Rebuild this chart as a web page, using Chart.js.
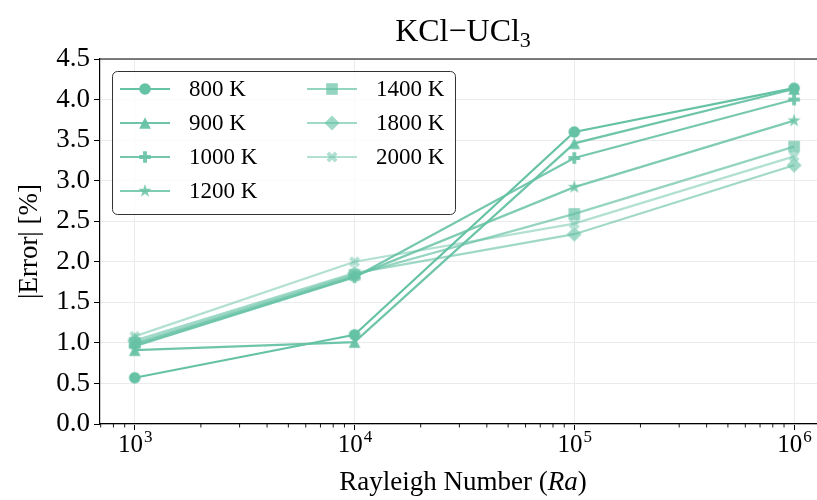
<!DOCTYPE html>
<html>
<head>
<meta charset="utf-8">
<script src="https://cdn.jsdelivr.net/npm/chart.js@4.4.0/dist/chart.umd.min.js"></script>
<style>
html,body{margin:0;padding:0;background:#fff;overflow:hidden}
#wrap{width:817px;height:500px;position:relative;overflow:hidden}
</style>
</head>
<body>
<div id="wrap"><canvas id="c" width="830" height="500"></canvas></div>
<script>
// data
const rayleigh=[1e3,1e4,1e5,1e6];
const temps=['800 K','900 K','1000 K','1200 K','1400 K','1800 K','2000 K'];
const err800 =[0.57,1.10,3.60,4.14];
const err900 =[0.91,1.01,3.46,4.13];
const err1000=[0.96,1.81,3.28,4.00];
const err1200=[0.98,1.82,2.92,3.74];
const err1400=[1.00,1.84,2.59,3.42];
const err1800=[1.03,1.86,2.34,3.19];
const err2000=[1.08,2.00,2.47,3.30];
const yTicks=[0,0.5,1,1.5,2,2.5,3,3.5,4,4.5];
const xExp=['3','4','5','6'];

const series=[err800,err900,err1000,err1200,err1400,err1800,err2000];
const marks=['o','^','P','*','s','D','X'];
const alphas=[1,0.95,0.9,0.84,0.7,0.62,0.5];
const SERIF='"Liberation Serif","DejaVu Serif",serif';
const col=a=>`rgba(102,194,165,${a})`;

function mk(kind,c){
  const cv=document.createElement('canvas');cv.width=cv.height=20;
  const g=cv.getContext('2d');g.fillStyle=c;g.translate(10,10);g.beginPath();
  const h=5.8;
  if(kind==='o'){g.arc(0,0,h,0,Math.PI*2)}
  else if(kind==='^'){g.moveTo(0,-h);g.lineTo(h,h);g.lineTo(-h,h);g.closePath()}
  else if(kind==='s'){g.rect(-h,-h,2*h,2*h)}
  else if(kind==='D'){const d=h*1.3;g.moveTo(0,-d);g.lineTo(d,0);g.lineTo(0,d);g.lineTo(-d,0);g.closePath()}
  else if(kind==='*'){const R=h*1.2,r=R*0.382;for(let i=0;i<10;i++){const a=-Math.PI/2+i*Math.PI/5,q=i%2?r:R;g.lineTo(q*Math.cos(a),q*Math.sin(a))}g.closePath()}
  else{
    if(kind==='X')g.rotate(Math.PI/4);
    const a=h,b=h/3;
    [[-b,-a],[b,-a],[b,-b],[a,-b],[a,b],[b,b],[b,a],[-b,a],[-b,b],[-a,b],[-a,-b],[-b,-b]].forEach(p=>g.lineTo(p[0],p[1]));
    g.closePath();
  }
  g.fill();
  return cv;
}

const datasets=series.map((s,i)=>({
  label:temps[i],
  data:rayleigh.map((x,j)=>({x,y:s[j]})),
  borderColor:col(alphas[i]),
  backgroundColor:col(alphas[i]),
  borderWidth:2.2,
  pointStyle:mk(marks[i],col(alphas[i])),
  pointRadius:6,
  order:series.length-i,
  tension:0
}));

const isMajor=v=>Math.abs(Math.log10(v)-Math.round(Math.log10(v)))<1e-9;

const deco={
  id:'deco',
  afterDraw(ch){
    const g=ch.ctx,a=ch.chartArea,xs=ch.scales.x;
    g.save();
    // top spine
    g.strokeStyle='#000';g.lineWidth=1.2;
    g.beginPath();g.moveTo(a.left,a.top);g.lineTo(a.right,a.top);g.stroke();
    // minor ticks
    g.lineWidth=0.9;
    xs.ticks.forEach(t=>{if(!isMajor(t.value)){const p=xs.getPixelForValue(t.value);g.beginPath();g.moveTo(p,a.bottom);g.lineTo(p,a.bottom+3.5);g.stroke()}});
    // x tick labels 10^n
    g.fillStyle='#000';g.textBaseline='alphabetic';
    rayleigh.forEach((v,i)=>{
      const p=xs.getPixelForValue(v);
      g.font='25px '+SERIF;const w1=g.measureText('10').width;
      g.font='17px '+SERIF;const w2=g.measureText(xExp[i]).width;
      const x0=p-(w1+w2)/2;
      g.font='25px '+SERIF;g.textAlign='left';g.fillText('10',x0,452);
      g.font='17px '+SERIF;g.fillText(xExp[i],x0+w1+1,442);
    });
    // title
    const cx=463;
    g.font='32px '+SERIF;const t1='KCl\u2212UCl',tw1=g.measureText(t1).width;
    g.font='22px '+SERIF;const tw2=g.measureText('3').width;
    g.font='32px '+SERIF;g.fillText(t1,cx-(tw1+tw2)/2,41);
    g.font='22px '+SERIF;g.fillText('3',cx-(tw1+tw2)/2+tw1,47);
    // x title
    const parts=[['Rayleigh Number (',''],['Ra','italic '],[')','']];
    let tot=0;parts.forEach(p=>{g.font=p[1]+'27px '+SERIF;tot+=g.measureText(p[0]).width});
    let x=cx-tot/2;
    parts.forEach(p=>{g.font=p[1]+'27px '+SERIF;g.fillText(p[0],x,490);x+=g.measureText(p[0]).width});
    // y title
    g.save();g.translate(30,(a.top+a.bottom)/2);g.rotate(-Math.PI/2);
    g.font='27px '+SERIF;g.textAlign='center';g.textBaseline='middle';g.fillText('|Error| [%]',0,0);
    g.restore();
    // legend
    g.fillStyle='rgba(255,255,255,0.8)';g.strokeStyle='#333';g.lineWidth=1;
    g.beginPath();g.roundRect(112.5,71.5,343,143,5);g.fill();g.stroke();
    ch.data.datasets.forEach((d,i)=>{
      const c2=i<4?0:1,r=i<4?i:i-4;
      const hx=c2?307:120,y=89+r*34;
      g.strokeStyle=d.borderColor;g.lineWidth=d.borderWidth;
      g.beginPath();g.moveTo(hx,y);g.lineTo(hx+50,y);g.stroke();
      g.drawImage(d.pointStyle,hx+25-10,y-10);
      g.fillStyle='#000';g.font='23px '+SERIF;g.textAlign='left';g.textBaseline='middle';
      g.fillText(d.label,hx+69,y+1);
    });
    g.restore();
  }
};

new Chart(document.getElementById('c'),{
  type:'line',
  data:{datasets},
  options:{
    responsive:false,animation:false,
    layout:{padding:{top:59,right:0,left:0,bottom:0}},
    plugins:{legend:{display:false},title:{display:false},tooltip:{enabled:false}},
    scales:{
      x:{
        type:'logarithmic',min:695,max:1.337e6,
        afterBuildTicks(s){
          const t=[];
          for(let e=2;e<=6;e++)for(let k=1;k<=9;k++){const v=k*Math.pow(10,e);if(v>=s.min&&v<=s.max)t.push({value:v,major:k===1})}
          s.ticks=t;
        },
        afterFit(s){s.height=76},
        ticks:{display:false,autoSkip:false},
        grid:{
          color:c=>c.tick&&isMajor(c.tick.value)?'#ebebeb':'rgba(0,0,0,0)',
          tickColor:c=>c.tick&&isMajor(c.tick.value)?'#000':'rgba(0,0,0,0)',
          tickLength:6,lineWidth:1
        },
        border:{color:'#000',width:1.2}
      },
      y:{
        type:'linear',min:0,max:4.5,
        afterBuildTicks(s){s.ticks=yTicks.map(v=>({value:v}))},
        afterFit(s){s.width=100},
        ticks:{color:'#000',font:{family:SERIF,size:27},padding:4,callback:v=>v.toFixed(1)},
        grid:{color:'#ebebeb',tickColor:'#000',tickLength:6,lineWidth:1},
        border:{color:'#000',width:1.2}
      }
    }
  },
  plugins:[deco]
});
</script>
</body>
</html>
